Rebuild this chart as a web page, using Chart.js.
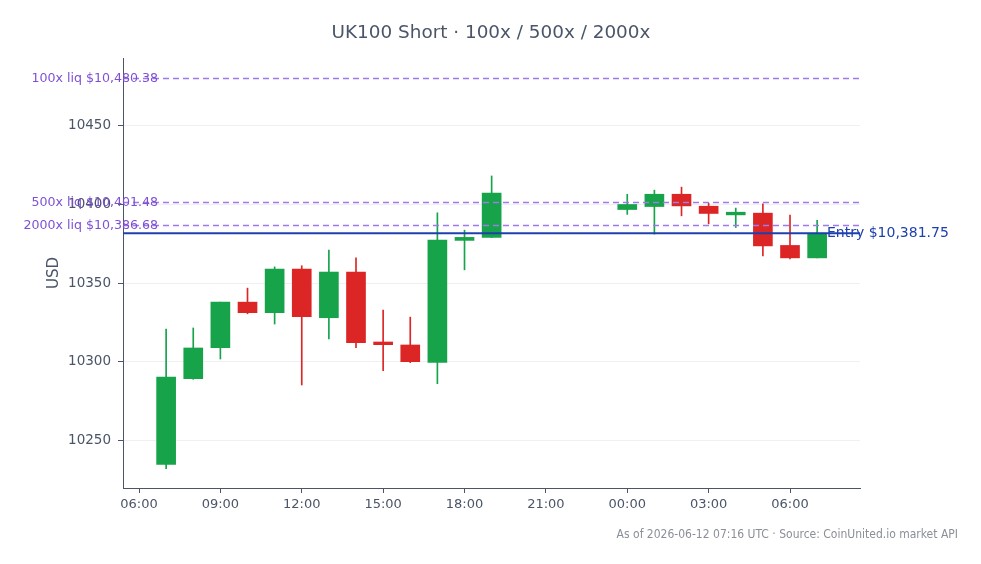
<!DOCTYPE html>
<html>
<head>
<meta charset="utf-8">
<script src="https://cdn.jsdelivr.net/npm/chart.js@4.4.1/dist/chart.umd.min.js"></script>
<style>
  html, body { margin: 0; padding: 0; background: #fff; }
  #wrap { width: 981px; height: 564px; }
</style>
</head>
<body>
<div id="wrap"><canvas id="chart" width="981" height="564"></canvas></div>
<script>
// hours after 06:00 on 2026-06-11 (hourly candles)
const hours  = [1, 2, 3, 4, 5, 6, 7, 8, 9, 10, 11, 12, 13, 18, 19, 20, 21, 22, 23, 24, 25];
const opens  = [10234.9, 10289.4, 10309.1, 10338.0, 10331.3, 10359.0, 10328.1, 10357.1, 10312.7, 10310.8, 10299.8, 10377.2, 10379.1,
                10396.8, 10398.7, 10406.5, 10398.9, 10393.4, 10394.5, 10374.0, 10366.1];
const highs  = [10320.9, 10321.6, 10338.0, 10346.9, 10360.4, 10361.1, 10371.0, 10366.1, 10333.0, 10328.5, 10394.7, 10383.7, 10418.1,
                10406.5, 10409.1, 10411.0, 10400.8, 10397.7, 10400.4, 10393.2, 10390.0];
const lows   = [10232.3, 10289.0, 10301.9, 10330.6, 10324.1, 10285.4, 10314.6, 10309.1, 10294.5, 10299.6, 10286.2, 10358.5, 10379.0,
                10393.7, 10381.2, 10392.8, 10387.7, 10385.4, 10367.4, 10365.5, 10366.0];
const closes = [10290.5, 10308.9, 10338.0, 10331.3, 10359.0, 10328.7, 10357.1, 10312.2, 10311.0, 10300.2, 10377.4, 10379.1, 10407.2,
                10400.0, 10406.5, 10399.1, 10394.3, 10395.1, 10373.7, 10366.1, 10381.75];

const xTicks = [0, 3, 6, 9, 12, 15, 18, 21, 24];
const yTicks = [10250, 10300, 10350, 10400, 10450];

const liqLabels = ['100x liq $10,480.38', '500x liq $10,401.48', '2000x liq $10,386.68'];
const liqPrices = [10480.38, 10401.48, 10386.68];
const entryPrice = 10381.75;
const entryLabel = 'Entry $10,381.75';

const UP = '#16a34a';
const DOWN = '#dc2626';
const AXIS = '#4a5568';

const candleColors = opens.map((o, i) => closes[i] >= o ? UP : DOWN);

Chart.defaults.font.family = "'DejaVu Sans', sans-serif";

const overlays = {
    id: 'overlays',
    afterDatasetsDraw(chart) {
        const { ctx, chartArea, scales } = chart;
        const y = scales.y;
        ctx.save();

        // liquidation levels
        liqPrices.forEach((p, i) => {
            const py = Math.round(y.getPixelForValue(p)) + 0.5;
            ctx.strokeStyle = '#9f7aea';
            ctx.lineWidth = 1.5;
            ctx.setLineDash([6, 4]);
            ctx.beginPath();
            ctx.moveTo(chartArea.left, py);
            ctx.lineTo(chartArea.right, py);
            ctx.stroke();
            ctx.setLineDash([]);
            ctx.fillStyle = '#7e4fd4';
            ctx.font = "12.6px 'DejaVu Sans'";
            ctx.textAlign = 'right';
            ctx.textBaseline = 'middle';
            ctx.fillText(liqLabels[i], chartArea.left + 35, py);
        });

        // entry
        const ey = y.getPixelForValue(entryPrice);
        ctx.strokeStyle = '#1e40af';
        ctx.lineWidth = 2;
        ctx.beginPath();
        ctx.moveTo(chartArea.left, ey);
        ctx.lineTo(chartArea.right, ey);
        ctx.stroke();
        ctx.fillStyle = '#1e40af';
        ctx.font = "14px 'DejaVu Sans'";
        ctx.textAlign = 'left';
        ctx.textBaseline = 'middle';
        ctx.fillText(entryLabel, 827, ey);

        // title, axis title, footnote
        ctx.fillStyle = AXIS;
        ctx.font = "18.4px 'DejaVu Sans'";
        ctx.textAlign = 'center';
        ctx.fillText('UK100 Short · 100x / 500x / 2000x', 491, 33);

        ctx.save();
        ctx.translate(54, 273);
        ctx.rotate(-Math.PI / 2);
        ctx.font = "15px 'DejaVu Sans'";
        ctx.fillText('USD', 0, 0);
        ctx.restore();

        ctx.fillStyle = '#8a8f98';
        ctx.font = "12px 'DejaVu Sans Condensed', 'DejaVu Sans'";
        ctx.textAlign = 'right';
        ctx.fillText('As of 2026-06-12 07:16 UTC · Source: CoinUnited.io market API', 958, 535);
        ctx.restore();
    }
};

new Chart(document.getElementById('chart'), {
    type: 'bar',
    data: {
        datasets: [
            {
                label: 'body',
                data: hours.map((h, i) => ({ x: h, y: [opens[i], closes[i]] })),
                backgroundColor: candleColors,
                barThickness: 19,
                grouped: false,
                order: 0
            },
            {
                label: 'wick',
                data: hours.map((h, i) => ({ x: h, y: [lows[i], highs[i]] })),
                backgroundColor: candleColors,
                barThickness: 1,
                grouped: false,
                order: 1
            }
        ]
    },
    options: {
        responsive: false,
        animation: false,
        devicePixelRatio: 1,
        layout: { padding: { left: 0, right: 121, top: 58, bottom: 0 } },
        plugins: {
            legend: { display: false },
            tooltip: { enabled: false },
            title: { display: false }
        },
        scales: {
            x: {
                type: 'linear',
                offset: false,
                min: -0.59,
                max: 26.58,
                afterBuildTicks: s => { s.ticks = xTicks.map(v => ({ value: v })); },
                afterFit: s => { s.height = 76; },
                ticks: {
                    color: AXIS,
                    font: { size: 13 },
                    padding: 4,
                    maxRotation: 0,
                    autoSkip: false,
                    callback: v => String((6 + v) % 24).padStart(2, '0') + ':00'
                },
                grid: { offset: false, drawOnChartArea: false, tickLength: 5, tickColor: AXIS },
                border: { color: AXIS, width: 1 }
            },
            y: {
                min: 10220,
                max: 10493,
                afterBuildTicks: s => { s.ticks = yTicks.map(v => ({ value: v })); },
                afterFit: s => { s.width = 123; },
                ticks: { color: AXIS, font: { size: 13.5 }, padding: 7, callback: v => String(v) },
                grid: { color: '#eef0f3', tickLength: 5, tickColor: AXIS },
                border: { color: AXIS, width: 1 }
            }
        }
    },
    plugins: [overlays]
});
</script>
</body>
</html>
